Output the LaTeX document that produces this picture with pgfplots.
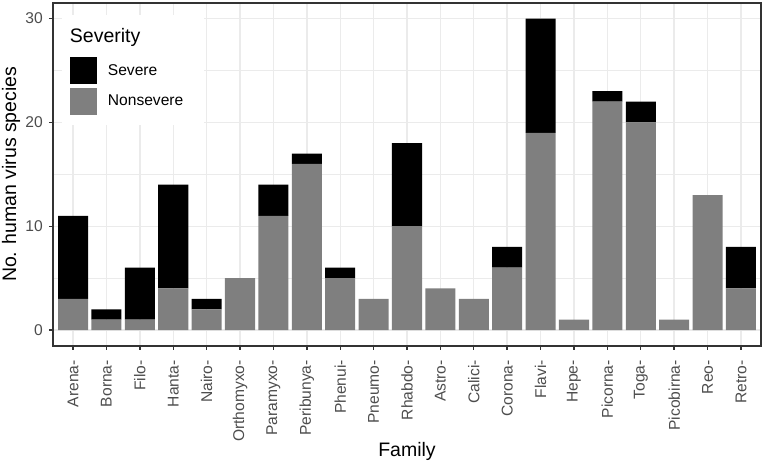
\documentclass[border=0pt]{standalone}
\usepackage{fontspec}
\setmainfont{Liberation Sans}
\usepackage{pgfplots}
\pgfplotsset{compat=1.18}
\definecolor{grey20}{HTML}{333333}
\definecolor{grey30}{HTML}{4D4D4D}
\definecolor{grey50}{HTML}{7F7F7F}
\definecolor{grey92}{HTML}{EBEBEB}
\newcommand{\tickfont}{\fontsize{15.6bp}{18bp}\selectfont}
\newcommand{\titlefont}{\fontsize{19.5bp}{23bp}\selectfont}
\begin{document}
\begin{tikzpicture}
\begin{axis}[
  at={(0,0)}, anchor=south west,
  scale only axis, width=708bp, height=342.6bp,
  xmin=-0.6, xmax=20.6, ymin=-1.5, ymax=31.5,
  ybar stacked, bar width=0.9,
  xtick={0,...,20},
  xticklabels={{\tickfont Arena-},{\tickfont Borna-},{\tickfont Filo-},{\tickfont Hanta-},{\tickfont Nairo-},{\tickfont Orthomyxo-},{\tickfont Paramyxo-},{\tickfont Peribunya-},{\tickfont Phenui-},{\tickfont Pneumo-},{\tickfont Rhabdo-},{\tickfont Astro-},{\tickfont Calici-},{\tickfont Corona-},{\tickfont Flavi-},{\tickfont Hepe-},{\tickfont Picorna-},{\tickfont Toga-},{\tickfont Picobirna-},{\tickfont Reo-},{\tickfont Retro-}},
  ytick={0,10,20,30},
  yticklabel={{\tickfont\pgfmathprintnumber{\tick}}},
  minor ytick={5,15,25},
  grid=both,
  major grid style={color=grey92, line width=1.4bp},
  minor grid style={color=grey92, line width=0.7bp},
  tick align=outside,
  xtick pos=bottom, ytick pos=left,
  major tick length=4bp, minor tick length=0pt,
  tick style={color=grey20, line width=1.4bp},
  axis line style={color=grey20, line width=1.8bp},
  set layers=standard,
  /pgf/number format/assume math mode=true,
  tick label style={font=\tickfont, color=grey30, inner sep=0pt},
  xticklabel style={rotate=90, anchor=east, font=\tickfont},
  yticklabel style={anchor=east},
  xticklabel shift=10.4bp,
  yticklabel shift=6bp,
  xlabel={Family}, ylabel={No. human virus species},
  label style={font=\titlefont, inner sep=0pt},
  xlabel style={at={(rel axis cs:0.5,-0.3243)}, anchor=base},
  ylabel style={at={(rel axis cs:-0.0522,0.5)}, anchor=base, rotate=0},
  legend style={
    at={(rel axis cs:0.0123,0.965)}, anchor=north west,
    draw=none, fill=white, inner xsep=7.6bp, inner ysep=0pt,
    font=\tickfont, row sep=0pt,
    nodes={inner sep=0pt},
    /tikz/every odd column/.append style={column sep=11.3bp},
  },
  legend cell align=left,
]
\addplot[fill=grey50, draw=none, forget plot] coordinates {
(0,3) (1,1) (2,1) (3,4) (4,2) (5,5) (6,11) (7,16) (8,5) (9,3) (10,10)
(11,4) (12,3) (13,6) (14,19) (15,1) (16,22) (17,20) (18,1) (19,13) (20,4)};
\addplot[fill=black, draw=none, forget plot] coordinates {
(0,8) (1,1) (2,5) (3,10) (4,1) (5,0) (6,3) (7,1) (8,1) (9,0) (10,8)
(11,0) (12,0) (13,2) (14,11) (15,0) (16,1) (17,2) (18,0) (19,0) (20,4)};
\addlegendimage{empty legend}
\addlegendentry{\rule{0pt}{40.2bp}\hspace*{-38bp}\raisebox{12.5bp}{\titlefont Severity}}
\addlegendimage{legend image code/.code={\fill[black] (0bp,-11.85bp) rectangle (26.7bp,14.15bp);}}
\addlegendentry{\rule{0pt}{28.3bp}\raisebox{9.7bp}{Severe}}
\addlegendimage{legend image code/.code={\fill[grey50] (0bp,-8.2bp) rectangle (26.7bp,18.2bp);}}
\addlegendentry{\rule{0pt}{37bp}\raisebox{17.7bp}{Nonsevere}\hspace*{13bp}}
\end{axis}
\path (-53bp,-118.4bp) rectangle (712bp,345.6bp);
\end{tikzpicture}
\end{document}
